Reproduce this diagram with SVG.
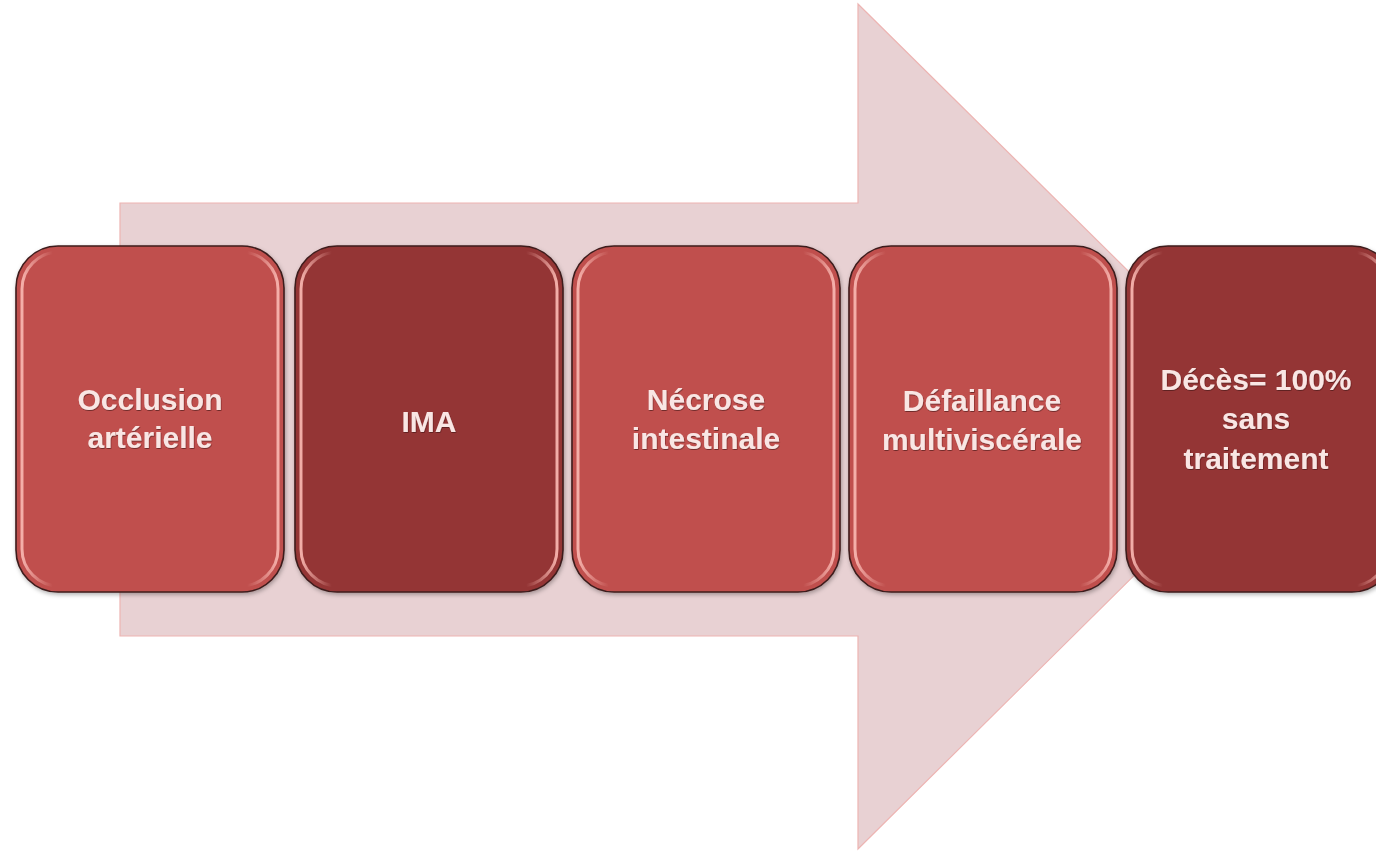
<svg xmlns="http://www.w3.org/2000/svg" width="1376" height="852" viewBox="0 0 1376 852">
  <style>
    .flow { fill: #E8D1D3; stroke: #EDB4B2; stroke-width: 1.2; }
    .box { stroke: #3E1C1C; stroke-width: 1.6; filter: url(#shadow); }
    .light { fill: #C0504D; }
    .dark { fill: #943634; }
    .gloss { fill: none; stroke: url(#edgeGlow); stroke-width: 3; }
    .label { font-family: "Liberation Sans", Arial, sans-serif; font-weight: bold; font-size: 30px; fill: #F9E6E4; text-anchor: middle; filter: url(#txtShadow); }
  </style>
  <defs>
    <filter id="shadow" x="-10%" y="-10%" width="120%" height="120%">
      <feDropShadow dx="1" dy="2" stdDeviation="2" flood-color="#000" flood-opacity="0.3"/>
    </filter>
    <filter id="txtShadow" x="-10%" y="-20%" width="120%" height="140%">
      <feDropShadow dx="0.5" dy="1" stdDeviation="0.6" flood-color="#3a0a0a" flood-opacity="0.6"/>
    </filter>
    <linearGradient id="edgeGlow" x1="0" y1="0" x2="1" y2="0">
      <stop offset="0" stop-color="#F7B4AE" stop-opacity="0.95"/>
      <stop offset="0.12" stop-color="#F7B4AE" stop-opacity="0"/>
      <stop offset="0.88" stop-color="#F7B4AE" stop-opacity="0"/>
      <stop offset="1" stop-color="#F7B4AE" stop-opacity="0.95"/>
    </linearGradient>
  </defs>

  <!-- background block arrow -->
  <g id="flow-arrow">
    <path class="flow" d="M120,203 L858,203 L858,4 L1285,426 L858,849 L858,636 L120,636 Z"/>
  </g>

  <g id="connectors"></g>

  <g id="node-occlusion">
    <rect class="box light" x="16" y="246" width="268" height="346" rx="42"/>
    <rect class="gloss" x="22" y="252" width="256" height="334" rx="37"/>
    <text class="label" x="150" y="410">Occlusion</text>
    <text class="label" x="150" y="448">artérielle</text>
  </g>

  <g id="node-ima">
    <rect class="box dark" x="295" y="246" width="268" height="346" rx="42"/>
    <rect class="gloss" x="301" y="252" width="256" height="334" rx="37"/>
    <text class="label" x="429" y="432">IMA</text>
  </g>

  <g id="node-necrose">
    <rect class="box light" x="572" y="246" width="268" height="346" rx="42"/>
    <rect class="gloss" x="578" y="252" width="256" height="334" rx="37"/>
    <text class="label" x="706" y="410">Nécrose</text>
    <text class="label" x="706" y="449">intestinale</text>
  </g>

  <g id="node-defaillance">
    <rect class="box light" x="849" y="246" width="268" height="346" rx="42"/>
    <rect class="gloss" x="855" y="252" width="256" height="334" rx="37"/>
    <text class="label" x="982" y="411">Défaillance</text>
    <text class="label" x="982" y="450">multiviscérale</text>
  </g>

  <g id="node-deces">
    <rect class="box dark" x="1126" y="246" width="268" height="346" rx="42"/>
    <rect class="gloss" x="1132" y="252" width="256" height="334" rx="37"/>
    <text class="label" x="1256" y="390">Décès= 100%</text>
    <text class="label" x="1256" y="429">sans</text>
    <text class="label" x="1256" y="469">traitement</text>
  </g>
</svg>
